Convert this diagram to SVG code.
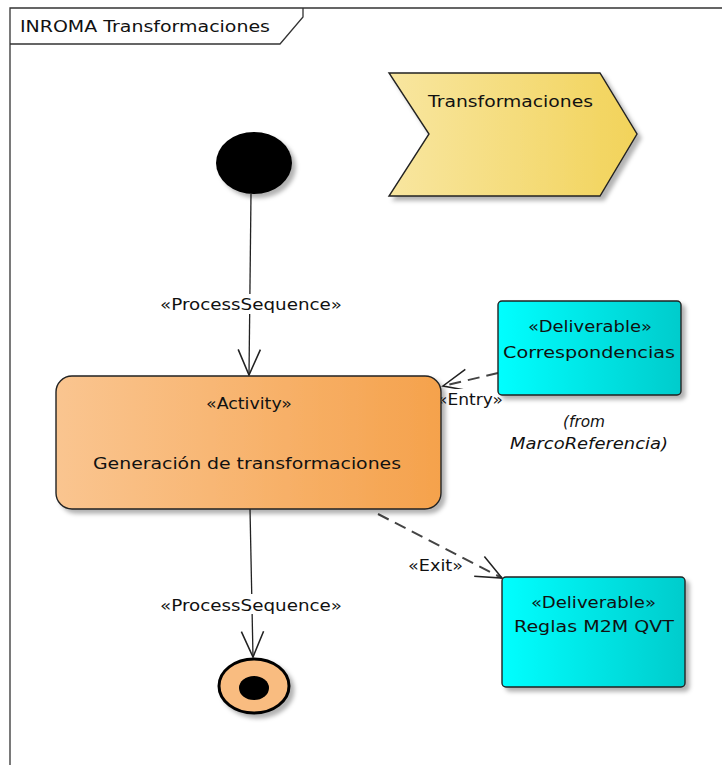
<svg xmlns="http://www.w3.org/2000/svg" width="722" height="765" viewBox="0 0 722 765">
  <style>
    text { font-family: "DejaVu Sans", "Liberation Sans", sans-serif; font-size: 15px; fill: #111; }
    .big { font-size: 16px; }
    .ital { font-style: italic; }
    .edge { fill: none; stroke: #222; stroke-width: 1.3; }
    .dash { stroke-dasharray: 12,7; stroke: #444; stroke-width: 2; }
    .node { stroke: #222; stroke-width: 1.4; }
    .lblbg { fill: #fff; }
  </style>
  <defs>
    <linearGradient id="gOrange" x1="0" y1="0" x2="1" y2="0">
      <stop offset="0" stop-color="#FAC590"/>
      <stop offset="1" stop-color="#F5A24C"/>
    </linearGradient>
    <linearGradient id="gCyan" x1="0" y1="0" x2="1" y2="0">
      <stop offset="0" stop-color="#00FFFF"/>
      <stop offset="1" stop-color="#00CCCC"/>
    </linearGradient>
    <linearGradient id="gYellow" x1="0" y1="0" x2="1" y2="0">
      <stop offset="0" stop-color="#F8E6A0"/>
      <stop offset="1" stop-color="#F2D35A"/>
    </linearGradient>
    <filter id="shadow" x="-10%" y="-10%" width="130%" height="130%">
      <feDropShadow dx="4" dy="4" stdDeviation="2" flood-color="#000" flood-opacity="0.3"/>
    </filter>
    <marker id="open" markerUnits="userSpaceOnUse" markerWidth="30" markerHeight="30" viewBox="-25 -12 27 24" refX="0" refY="0" orient="auto">
      <path d="M-23,-10 L0,0 L-23,10" fill="none" stroke="#222" stroke-width="1.4"/>
    </marker>
  </defs>

  <rect width="722" height="765" fill="#fff"/>

  <!-- frame -->
  <g id="frame">
    <path d="M10,765 L10,8 L722,8" fill="none" stroke="#333" stroke-width="1.3"/>
    <path d="M10,44 L280,44 L303,17 L303,8" fill="none" stroke="#333" stroke-width="1.3"/>
    <text class="big" x="20" y="32" textLength="250" lengthAdjust="spacingAndGlyphs">INROMA Transformaciones</text>
  </g>

  <!-- connectors -->
  <g id="connectors">
    <path class="edge" d="M251,194 L249,375" marker-end="url(#open)"/>
    <rect class="lblbg" x="158" y="294" width="186" height="20"/>
    <text x="160" y="310" textLength="182" lengthAdjust="spacingAndGlyphs">«ProcessSequence»</text>

    <path class="edge" d="M250,509 L253,657" marker-end="url(#open)"/>
    <rect class="lblbg" x="158" y="594" width="186" height="20"/>
    <text x="160" y="611" textLength="182" lengthAdjust="spacingAndGlyphs">«ProcessSequence»</text>

    <path class="edge dash" d="M498,373 L443,386" marker-end="url(#open)"/>
    <rect class="lblbg" x="434" y="389" width="72" height="20"/>
    <text x="437" y="405" textLength="66" lengthAdjust="spacingAndGlyphs">«Entry»</text>

    <path class="edge dash" d="M378,514 L502,578" marker-end="url(#open)"/>
    <text x="408" y="571" textLength="55" lengthAdjust="spacingAndGlyphs">«Exit»</text>
  </g>

  <!-- start -->
  <g id="start">
    <ellipse cx="254" cy="163" rx="38" ry="31" fill="#000" filter="url(#shadow)"/>
  </g>

  <!-- phase chevron -->
  <g id="phase">
    <polygon class="node" points="389,73 600,73 637,134 600,196 389,196 429,134" fill="url(#gYellow)" filter="url(#shadow)"/>
    <text class="big" x="428" y="107" textLength="165" lengthAdjust="spacingAndGlyphs">Transformaciones</text>
  </g>

  <!-- activity -->
  <g id="activity">
    <rect class="node" x="56" y="376" width="385" height="133" rx="16" ry="16" fill="url(#gOrange)" filter="url(#shadow)"/>
    <text x="206" y="409" textLength="86" lengthAdjust="spacingAndGlyphs">«Activity»</text>
    <text class="big" x="93" y="469" textLength="308" lengthAdjust="spacingAndGlyphs">Generación de transformaciones</text>
  </g>

  <!-- deliverable: Correspondencias -->
  <g id="correspondencias">
    <rect class="node" x="498" y="301" width="183" height="94" rx="4" ry="4" fill="url(#gCyan)" filter="url(#shadow)"/>
    <text x="528" y="332" textLength="124" lengthAdjust="spacingAndGlyphs">«Deliverable»</text>
    <text class="big" x="503" y="358" textLength="172" lengthAdjust="spacingAndGlyphs">Correspondencias</text>
    <text class="ital" x="563" y="427" textLength="42" lengthAdjust="spacingAndGlyphs">(from</text>
    <text class="ital" x="510" y="449" textLength="158" lengthAdjust="spacingAndGlyphs">MarcoReferencia)</text>
  </g>

  <!-- deliverable: Reglas -->
  <g id="reglas">
    <rect class="node" x="502" y="577" width="183" height="110" rx="4" ry="4" fill="url(#gCyan)" filter="url(#shadow)"/>
    <text x="531" y="608" textLength="125" lengthAdjust="spacingAndGlyphs">«Deliverable»</text>
    <text class="big" x="514" y="632" textLength="160" lengthAdjust="spacingAndGlyphs">Reglas M2M QVT</text>
  </g>

  <!-- final -->
  <g id="final">
    <ellipse cx="254" cy="686" rx="35" ry="27" fill="#F9BC80" stroke="#000" stroke-width="3" filter="url(#shadow)"/>
    <ellipse cx="254" cy="688" rx="15" ry="12" fill="#000"/>
  </g>
</svg>
